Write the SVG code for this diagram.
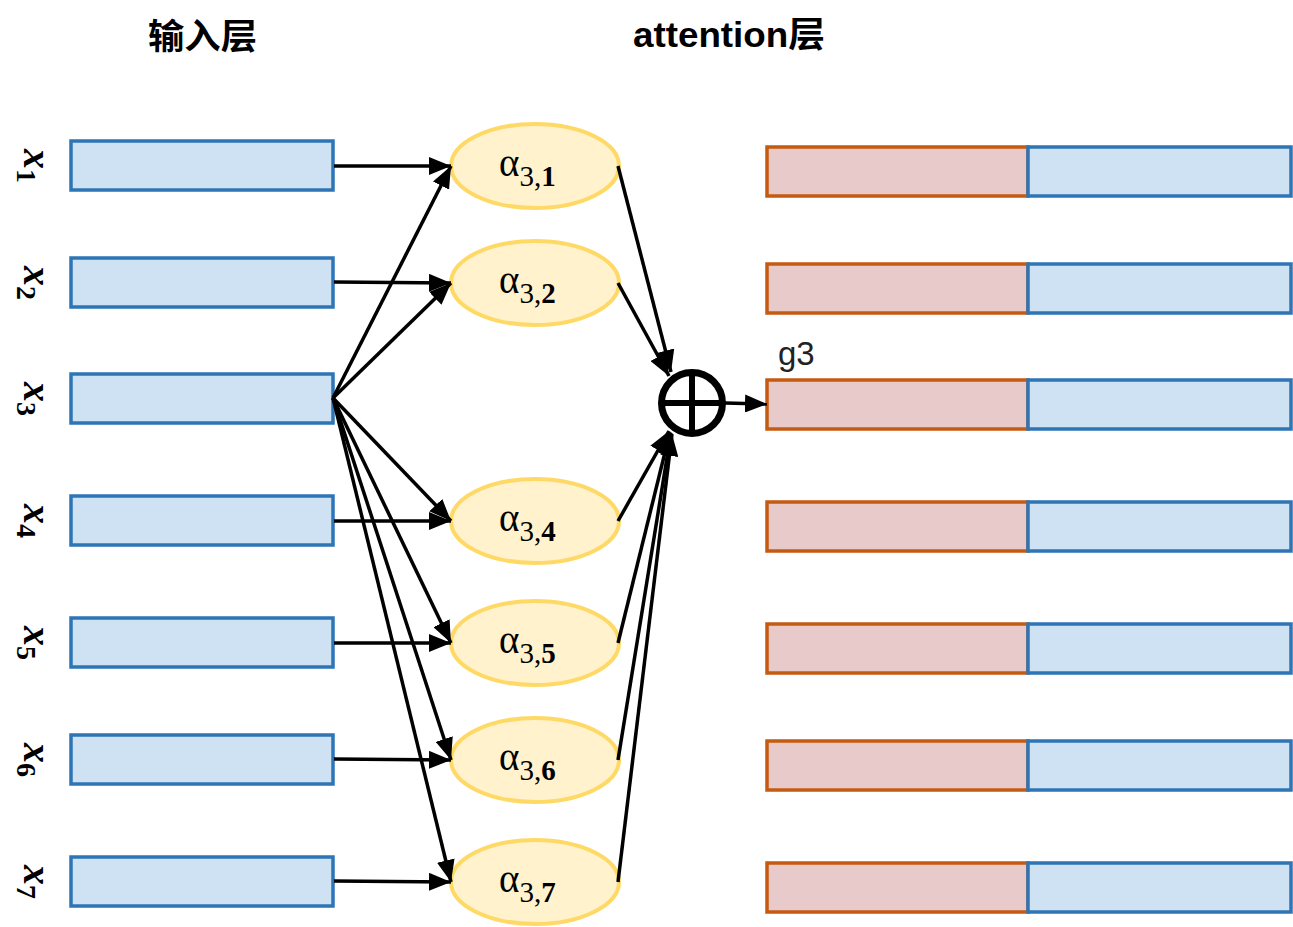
<svg xmlns="http://www.w3.org/2000/svg" width="1293" height="927" viewBox="0 0 1293 927">
<style>
.inbox{fill:#CFE2F3;stroke:#2E75B6;stroke-width:3.5}
.pk{fill:#E8CACB;stroke:#C55A11;stroke-width:3.5}
.bl{fill:#CFE2F3;stroke:#2E75B6;stroke-width:3.5}
.ell{fill:#FFF2CC;stroke:#FFD966;stroke-width:4}
.title{font-family:"Liberation Sans","Noto Sans CJK SC",sans-serif;font-weight:bold;font-size:35px;fill:#000}
.xl{font-family:"Liberation Serif",serif;font-size:40px;fill:#000}
.xi{font-style:italic;font-weight:bold}
.xs{font-family:"Liberation Serif",serif;font-size:28px;font-weight:bold}
.al{font-family:"Liberation Serif",serif;font-size:39px;fill:#000}
.sub{font-size:29px}
.b{font-weight:bold}
.c{stroke:#000;stroke-width:3.5;fill:none;marker-end:url(#ah)}
</style>
<defs>
<marker id="ah" markerUnits="userSpaceOnUse" markerWidth="22" markerHeight="18" viewBox="0 0 22 18" refX="22" refY="9" orient="auto">
<path d="M0,0 L22,9 L0,18 z" fill="#000"/>
</marker>
</defs>
<rect width="1293" height="927" fill="#fff"/>
<g id="titles">
<text class="title" x="148" y="49" textLength="109" lengthAdjust="spacingAndGlyphs">输入层</text>
<text class="title" x="633" y="47" textLength="192" lengthAdjust="spacingAndGlyphs">attention层</text>
</g>
<g id="xlabels">
<text class="xl" transform="translate(24,166) rotate(90)" text-anchor="middle"><tspan class="xi">x</tspan><tspan class="xs" dy="7">1</tspan></text>
<text class="xl" transform="translate(24,283) rotate(90)" text-anchor="middle"><tspan class="xi">x</tspan><tspan class="xs" dy="7">2</tspan></text>
<text class="xl" transform="translate(24,399) rotate(90)" text-anchor="middle"><tspan class="xi">x</tspan><tspan class="xs" dy="7">3</tspan></text>
<text class="xl" transform="translate(24,521) rotate(90)" text-anchor="middle"><tspan class="xi">x</tspan><tspan class="xs" dy="7">4</tspan></text>
<text class="xl" transform="translate(24,643) rotate(90)" text-anchor="middle"><tspan class="xi">x</tspan><tspan class="xs" dy="7">5</tspan></text>
<text class="xl" transform="translate(24,760) rotate(90)" text-anchor="middle"><tspan class="xi">x</tspan><tspan class="xs" dy="7">6</tspan></text>
<text class="xl" transform="translate(24,882) rotate(90)" text-anchor="middle"><tspan class="xi">x</tspan><tspan class="xs" dy="7">7</tspan></text>
</g>
<g id="input1"><rect class="inbox" x="71" y="141" width="262" height="49"/></g>
<g id="input2"><rect class="inbox" x="71" y="258" width="262" height="49"/></g>
<g id="input3"><rect class="inbox" x="71" y="374" width="262" height="49"/></g>
<g id="input4"><rect class="inbox" x="71" y="496" width="262" height="49"/></g>
<g id="input5"><rect class="inbox" x="71" y="618" width="262" height="49"/></g>
<g id="input6"><rect class="inbox" x="71" y="735" width="262" height="49"/></g>
<g id="input7"><rect class="inbox" x="71" y="857" width="262" height="49"/></g>

<g id="a31"><ellipse class="ell" cx="535" cy="166" rx="84" ry="42"/><text class="al" x="499" y="176">α<tspan class="sub" dy="10">3,</tspan><tspan class="sub b">1</tspan></text></g>
<g id="a32"><ellipse class="ell" cx="535" cy="283" rx="84" ry="42"/><text class="al" x="499" y="293">α<tspan class="sub" dy="10">3,</tspan><tspan class="sub b">2</tspan></text></g>
<g id="a34"><ellipse class="ell" cx="535" cy="521" rx="84" ry="42"/><text class="al" x="499" y="531">α<tspan class="sub" dy="10">3,</tspan><tspan class="sub b">4</tspan></text></g>
<g id="a35"><ellipse class="ell" cx="535" cy="643" rx="84" ry="42"/><text class="al" x="499" y="653">α<tspan class="sub" dy="10">3,</tspan><tspan class="sub b">5</tspan></text></g>
<g id="a36"><ellipse class="ell" cx="535" cy="760" rx="84" ry="42"/><text class="al" x="499" y="770">α<tspan class="sub" dy="10">3,</tspan><tspan class="sub b">6</tspan></text></g>
<g id="a37"><ellipse class="ell" cx="535" cy="882" rx="84" ry="42"/><text class="al" x="499" y="892">α<tspan class="sub" dy="10">3,</tspan><tspan class="sub b">7</tspan></text></g>

<g id="sum">
<circle cx="692" cy="403" r="30.5" fill="#fff" stroke="#000" stroke-width="7"/>
<line x1="662" y1="403" x2="722" y2="403" stroke="#000" stroke-width="6"/>
<line x1="692" y1="373" x2="692" y2="433" stroke="#000" stroke-width="6"/>
</g>

<g id="out1"><rect class="pk" x="767" y="147" width="261" height="49"/><rect class="bl" x="1028" y="147" width="263" height="49"/></g>
<g id="out2"><rect class="pk" x="767" y="264" width="261" height="49"/><rect class="bl" x="1028" y="264" width="263" height="49"/></g>
<g id="out3"><rect class="pk" x="767" y="380" width="261" height="49"/><rect class="bl" x="1028" y="380" width="263" height="49"/><text x="778" y="365" font-family="Liberation Sans,sans-serif" font-size="33" fill="#222">g3</text></g>
<g id="out4"><rect class="pk" x="767" y="502" width="261" height="49"/><rect class="bl" x="1028" y="502" width="263" height="49"/></g>
<g id="out5"><rect class="pk" x="767" y="624" width="261" height="49"/><rect class="bl" x="1028" y="624" width="263" height="49"/></g>
<g id="out6"><rect class="pk" x="767" y="741" width="261" height="49"/><rect class="bl" x="1028" y="741" width="263" height="49"/></g>
<g id="out7"><rect class="pk" x="767" y="863" width="261" height="49"/><rect class="bl" x="1028" y="863" width="263" height="49"/></g>

<g id="connectors">
<line class="c" x1="334" y1="166" x2="451" y2="166"/>
<line class="c" x1="334" y1="282" x2="451" y2="283"/>
<line class="c" x1="334" y1="521" x2="451" y2="521"/>
<line class="c" x1="334" y1="643" x2="451" y2="643"/>
<line class="c" x1="334" y1="759" x2="451" y2="760"/>
<line class="c" x1="334" y1="881" x2="451" y2="882"/>
<line class="c" x1="333" y1="398" x2="451" y2="166"/>
<line class="c" x1="333" y1="398" x2="451" y2="283"/>
<line class="c" x1="333" y1="398" x2="451" y2="521"/>
<line class="c" x1="333" y1="398" x2="451" y2="643"/>
<line class="c" x1="333" y1="398" x2="451" y2="760"/>
<line class="c" x1="333" y1="398" x2="451" y2="882"/>
<line class="c" x1="618" y1="166" x2="671" y2="372"/>
<line class="c" x1="618" y1="283" x2="669" y2="376"/>
<line class="c" x1="618" y1="521" x2="669" y2="431"/>
<line class="c" x1="618" y1="643" x2="670" y2="432"/>
<line class="c" x1="618" y1="760" x2="671" y2="433"/>
<line class="c" x1="618" y1="882" x2="672" y2="434"/>
<line class="c" x1="725" y1="403" x2="767" y2="404"/>
</g>
</svg>
